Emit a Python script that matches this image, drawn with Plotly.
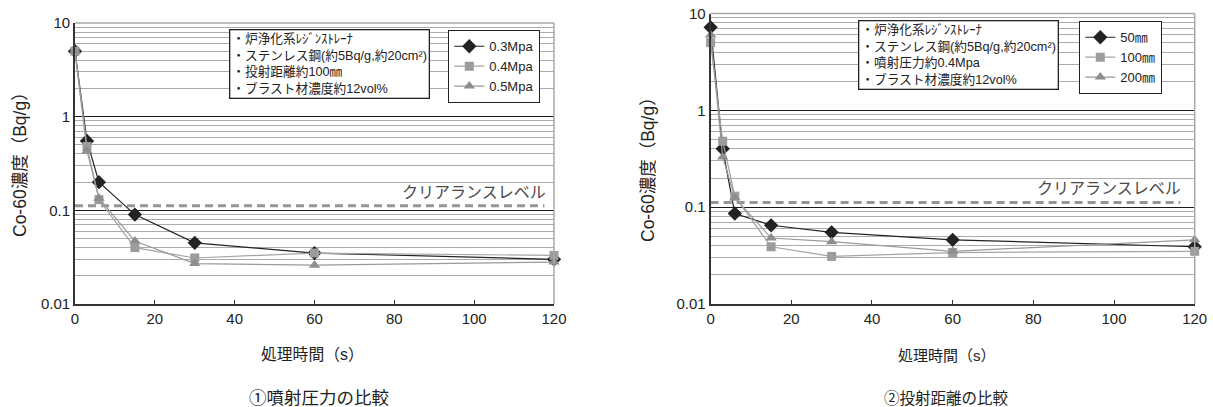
import math
import plotly.graph_objects as go

# ---------------- data ----------------
time_s = [0, 3, 6, 15, 30, 60, 120]

# chart 1: spray pressure comparison
p03 = [5.0, 0.55, 0.20, 0.090, 0.045, 0.035, 0.030]
p04 = [5.0, 0.48, 0.13, 0.040, 0.031, 0.035, 0.033]
p05 = [5.0, 0.43, 0.135, 0.047, 0.027, 0.026, 0.028]
names1 = ["0.3Mpa", "0.4Mpa", "0.5Mpa"]

# chart 2: projection distance comparison
d50 = [7.2, 0.40, 0.086, 0.065, 0.055, 0.046, 0.039]
d100 = [5.0, 0.48, 0.13, 0.039, 0.031, 0.034, 0.035]
d200 = [6.0, 0.33, 0.125, 0.048, 0.044, 0.035, 0.046]
names2 = ["50㎜", "100㎜", "200㎜"]

clearance_level = 0.112
clearance_x1 = [0, 117.6]
clearance_x2 = [0, 116.4]
clearance_label = "クリアランスレベル"

xticks = [0, 20, 40, 60, 80, 100, 120]
yticks = [0.01, 0.1, 1, 10]
yticklabels = ["0.01", "0.1", "1", "10"]

box1 = ["・炉浄化系ﾚｼﾞﾝｽﾄﾚｰﾅ", "・ステンレス鋼(約5Bq/g,約20cm²)", "・投射距離約100㎜", "・ブラスト材濃度約12vol%"]
box2 = ["・炉浄化系ﾚｼﾞﾝｽﾄﾚｰﾅ", "・ステンレス鋼(約5Bq/g,約20cm²)", "・噴射圧力約0.4Mpa", "・ブラスト材濃度約12vol%"]

ytitle = "Co-60濃度（Bq/g）"
xtitle = "処理時間（s）"
caption1 = "①噴射圧力の比較"
caption2 = "②投射距離の比較"

# ---------------- style ----------------
FONT = "Liberation Sans, Arial, Noto Sans CJK JP, sans-serif"
BLACK = "#222222"
styles = [
    dict(color=BLACK, symbol="diamond", size=11),
    dict(color="#9c9c9c", symbol="square", size=9),
    dict(color="#8e8e8e", symbol="triangle-up", size=10),
]
line_colors = [BLACK, "#a4a4a4", "#9a9a9a"]

W, H = 1213, 407
fig = go.Figure()

def add_series(xaxis, yaxis, legend, names, series, cx):
    fig.add_trace(go.Scatter(
        x=cx, y=[clearance_level, clearance_level], mode="lines",
        line=dict(color="#959595", width=3, dash="8px,5px"),
        showlegend=False, hoverinfo="skip", xaxis=xaxis, yaxis=yaxis,
    ))
    for nm, ys, st, lc in zip(names, series, styles, line_colors):
        fig.add_trace(go.Scatter(
            x=time_s, y=ys, name=nm, mode="lines+markers",
            line=dict(color=lc, width=1.2),
            marker=dict(symbol=st["symbol"], size=st["size"], color=st["color"]),
            xaxis=xaxis, yaxis=yaxis, legend=legend, cliponaxis=False,
        ))

add_series("x", "y", "legend", names1, [p03, p04, p05], clearance_x1)
add_series("x2", "y2", "legend2", names2, [d50, d100, d200], clearance_x2)

minor_vals = [m * 10 ** e for e in (-2, -1, 0) for m in range(2, 10)]

def yaxis_cfg(domain, anchor):
    return dict(
        type="log", range=[-2, 1], domain=domain, anchor=anchor, automargin=False,
        tickvals=yticks, ticktext=yticklabels, ticks="",
        showgrid=True, gridcolor="#1a1a1a", gridwidth=1.2,
        minor=dict(tickvals=minor_vals, showgrid=True, gridcolor="#ababab", gridwidth=1.2, ticks=""),
        showline=True, linecolor="#333333", linewidth=1.8,
        tickfont=dict(family=FONT, size=15, color=BLACK),
        zeroline=False,
    )

def xaxis_cfg(domain, anchor):
    return dict(
        range=[0, 120], domain=domain, anchor=anchor, automargin=False,
        tickvals=xticks, ticks="inside", ticklen=4, tickcolor="#333333", tickwidth=1.2,
        showgrid=False, showline=True, linecolor="#333333", linewidth=1.8,
        tickfont=dict(family=FONT, size=15, color=BLACK), zeroline=False,
    )

legend_common = dict(xanchor="left", yanchor="top", bordercolor=BLACK, borderwidth=1.3,
                     bgcolor="white", font=dict(family=FONT, size=13, color=BLACK),
                     tracegroupgap=0, itemwidth=30)

fig.update_layout(
    width=W, height=H, autosize=False,
    margin=dict(l=0, r=0, t=0, b=0, pad=0, autoexpand=False),
    paper_bgcolor="white", plot_bgcolor="white",
    font=dict(family=FONT, color=BLACK),
    xaxis=xaxis_cfg([75 / W, 554 / W], "y"),
    yaxis=yaxis_cfg([1 - 304 / H, 1 - 23 / H], "x"),
    xaxis2=xaxis_cfg([710.6 / W, 1194.7 / W], "y2"),
    yaxis2=yaxis_cfg([1 - 304 / H, 1 - 13.5 / H], "x2"),
    legend=legend_common | dict(x=448 / W, y=1 - 30 / H),
    legend2=legend_common | dict(x=1079 / W, y=1 - 21 / H),
    showlegend=True,
)

# right border and gray top gridline of each plot
for xr, yr in (("x domain", "y domain"), ("x2 domain", "y2 domain")):
    fig.add_shape(type="line", xref=xr, yref=yr, x0=1, x1=1, y0=0, y1=1,
                  line=dict(color="#a8a8a8", width=1.5))
    fig.add_shape(type="line", xref=xr, yref=yr, x0=0, x1=1, y0=1, y1=1,
                  line=dict(color="#a8a8a8", width=1.5))

# condition text boxes
for txt, xp, yp in ((box1, 229, 29), (box2, 858, 20)):
    fig.add_annotation(xref="paper", yref="paper", x=xp / W, y=1 - yp / H,
                       xanchor="left", yanchor="top",
                       text="<br>".join(txt), showarrow=False, align="left",
                       bordercolor=BLACK, borderwidth=1.3, borderpad=2, bgcolor="white",
                       font=dict(family=FONT, size=12.7, color=BLACK))

# clearance level labels
for xr, yr, xe in (("x", "y", clearance_x1[1]), ("x2", "y2", clearance_x2[1])):
    fig.add_annotation(xref=xr, yref=yr, x=xe + 0.8, y=math.log10(clearance_level),
                       xanchor="right", yanchor="bottom", yshift=3,
                       text=clearance_label, showarrow=False,
                       font=dict(family=FONT, size=16, color="#4a4a4a"))

# axis titles
for xc, yc in ((20, 160), (648, 165)):
    fig.add_annotation(xref="paper", yref="paper", x=xc / W, y=1 - yc / H,
                       xanchor="center", yanchor="middle", textangle=-90,
                       text=ytitle, showarrow=False,
                       font=dict(family=FONT, size=17.5, color=BLACK))
for xc, yc, fs in ((312, 354, 15.8), (947, 355, 15)):
    fig.add_annotation(xref="paper", yref="paper", x=xc / W, y=1 - yc / H,
                       xanchor="center", yanchor="middle",
                       text=xtitle, showarrow=False,
                       font=dict(family=FONT, size=fs, color=BLACK))

# captions
for txt, xc, fs in ((caption1, 318.5, 17.5), (caption2, 946, 15.5)):
    fig.add_annotation(xref="paper", yref="paper", x=xc / W, y=1 - 398 / H,
                       xanchor="center", yanchor="middle",
                       text=txt, showarrow=False,
                       font=dict(family=FONT, size=fs, color=BLACK))

fig.write_html(
    "out.html",
    config={"displayModeBar": False, "responsive": False},
    post_script="document.documentElement.style.margin='0';document.body.style.margin='0';"
                "document.body.style.overflow='hidden';document.documentElement.style.overflow='hidden';",
)
